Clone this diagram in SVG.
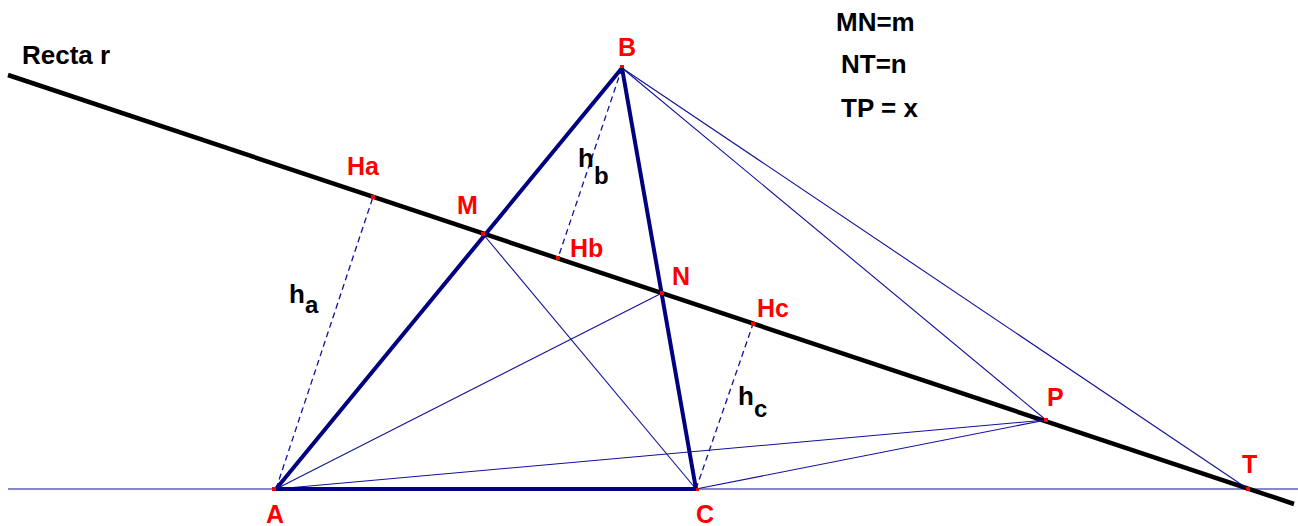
<svg xmlns="http://www.w3.org/2000/svg" width="1298" height="526" viewBox="0 0 1298 526">
<style>
.thick{stroke:#000080;stroke-width:4;fill:none;stroke-linecap:round}
.thin{stroke:#10109a;stroke-width:1.1;fill:none}
.dash{stroke:#10109a;stroke-width:1.3;fill:none;stroke-dasharray:6 4}
.rline{stroke:#000;stroke-width:4.5;fill:none}
.pt{fill:#ff0000}
.red{fill:#ff0000;font-family:"Liberation Sans",Arial,sans-serif;font-weight:bold;font-size:25px}
.blk{fill:#000;font-family:"Liberation Sans",Arial,sans-serif;font-weight:bold;font-size:26px}
.sub{font-size:24px}
</style>
<rect width="1298" height="526" fill="#fff"/>
<g id="connectors">
<line class="thin" x1="8" y1="489" x2="1298" y2="489"/>
<line class="rline" x1="8" y1="75" x2="1294" y2="504"/>
<line class="thin" x1="622" y1="68" x2="1046" y2="420"/>
<line class="thin" x1="622" y1="68" x2="1248" y2="489"/>
<line class="thin" x1="483" y1="234" x2="696" y2="489"/>
<line class="thin" x1="276" y1="489" x2="662" y2="293"/>
<line class="thin" x1="276" y1="489" x2="1046" y2="420"/>
<line class="thin" x1="696" y1="489" x2="1046" y2="420"/>
<line class="dash" x1="276" y1="489" x2="373" y2="197"/>
<line class="dash" x1="622" y1="68" x2="558" y2="258"/>
<line class="dash" x1="696" y1="489" x2="753" y2="324"/>
<line class="thick" x1="276" y1="489" x2="622" y2="68"/>
<line class="thick" x1="622" y1="68" x2="696" y2="489"/>
<line class="thick" x1="276" y1="489" x2="696" y2="489"/>
</g>
<g id="node-B"><rect class="pt" x="620" y="65" width="4" height="3"/><text class="red" x="618" y="56">B</text></g>
<g id="node-A"><rect class="pt" x="272" y="487" width="4" height="4"/><text class="red" x="266" y="523">A</text></g>
<g id="node-C"><rect class="pt" x="696" y="488" width="3" height="3"/><text class="red" x="696" y="523">C</text></g>
<g id="node-M"><rect class="pt" x="481" y="232" width="4" height="4"/><text class="red" x="457" y="214">M</text></g>
<g id="node-N"><rect class="pt" x="660" y="291" width="4" height="4"/><text class="red" x="672" y="285">N</text></g>
<g id="node-Ha"><rect class="pt" x="371" y="195" width="4" height="4"/><text class="red" x="347" y="175">Ha</text></g>
<g id="node-Hb"><rect class="pt" x="556" y="256" width="4" height="4"/><text class="red" x="570" y="257">Hb</text></g>
<g id="node-Hc"><rect class="pt" x="751" y="322" width="4" height="4"/><text class="red" x="757" y="317">Hc</text></g>
<g id="node-P"><rect class="pt" x="1044" y="418" width="4" height="4"/><text class="red" x="1047" y="406">P</text></g>
<g id="node-T"><rect class="pt" x="1246" y="487" width="4" height="4"/><text class="red" x="1242" y="473">T</text></g>
<g id="label-ha"><text class="blk" x="289" y="303">h<tspan class="sub" dy="10">a</tspan></text></g>
<g id="label-hb"><text class="blk" x="578" y="167">h<tspan class="sub" dy="17">b</tspan></text></g>
<g id="label-hc"><text class="blk" x="738" y="405">h<tspan class="sub" dy="12">c</tspan></text></g>
<g id="label-recta"><text class="blk" x="22" y="64">Recta r</text></g>
<g id="legend">
<text class="blk" x="836" y="31">MN=m</text>
<text class="blk" x="841" y="73">NT=n</text>
<text class="blk" x="841" y="117">TP = x</text>
</g>
</svg>
